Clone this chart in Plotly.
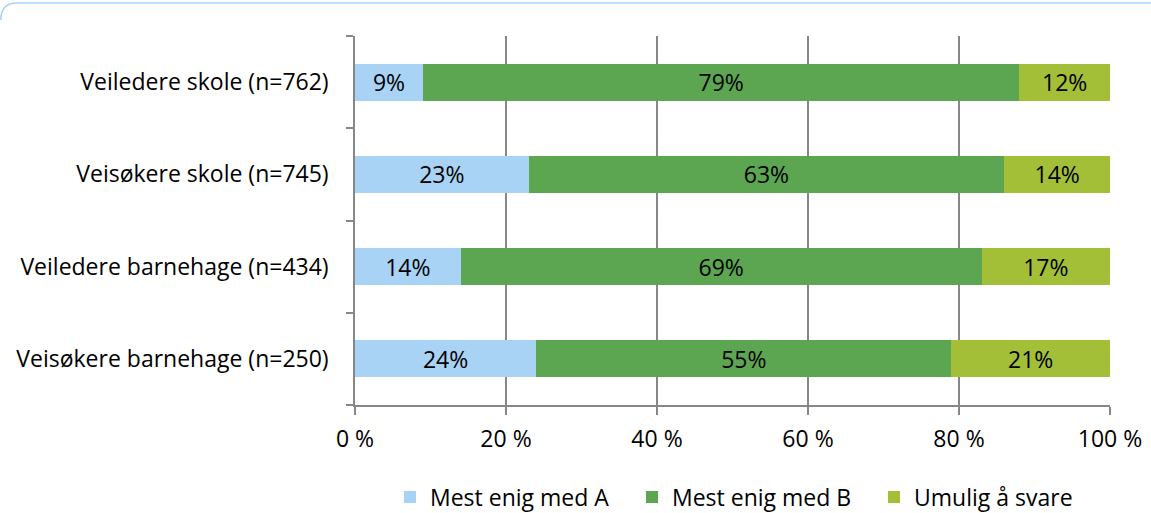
import plotly.graph_objects as go

categories = [
    "Veiledere skole (n=762)",
    "Veisøkere skole (n=745)",
    "Veiledere barnehage (n=434)",
    "Veisøkere barnehage (n=250)",
]
series_names = ["Mest enig med A", "Mest enig med B", "Umulig å svare"]
mest_enig_a = [9, 23, 14, 24]
mest_enig_b = [79, 63, 69, 55]
umulig = [12, 14, 17, 21]
x_ticks = [0, 20, 40, 60, 80, 100]
x_tick_labels = ["0 %", "20 %", "40 %", "60 %", "80 %", "100 %"]

colors = ["#a9d3f5", "#5ca651", "#a3bf37"]
FONT = "'Open Sans', 'Noto Sans', sans-serif"
FS = 23
GRAY = "#878787"

W, H = 1151, 513
ml, mr, mt, mb = 355, 41, 36, 108

fig = go.Figure()
for name, vals, col in zip(series_names, [mest_enig_a, mest_enig_b, umulig], colors):
    fig.add_trace(go.Bar(
        y=categories,
        x=vals,
        name=name,
        orientation="h",
        marker=dict(color=col, line=dict(width=0)),
        text=[f"{v}%" for v in vals],
        textposition="inside",
        insidetextanchor="middle",
        textangle=0,
        constraintext="none",
        textfont=dict(family=FONT, size=FS, color="#000000"),
        hoverinfo="skip",
    ))

# rounded top-left frame line, positioned in pixels via paper coordinates
pw, ph = W - ml - mr, H - mt - mb

def px(xp):
    return (xp - ml) / pw

def py(yp):
    return 1 - (yp - mt) / ph

frame_path = (
    f"M {px(0.8):.5f} {py(20):.5f} "
    f"Q {px(0.8):.5f} {py(3):.5f} {px(17):.5f} {py(3):.5f} "
    f"L {px(1151):.5f} {py(3):.5f}"
)

fig.update_layout(
    width=W,
    height=H,
    barmode="stack",
    bargap=0.6,
    margin=dict(l=ml, r=mr, t=mt, b=mb, pad=0, autoexpand=False),
    paper_bgcolor="white",
    plot_bgcolor="white",
    font=dict(family=FONT, size=FS, color="#000000"),
    showlegend=True,
    legend=dict(
        orientation="h",
        xref="container", yref="container",
        x=390 / W, xanchor="left",
        y=1 - 497 / H, yanchor="middle",
        font=dict(family=FONT, size=FS, color="#000000"),
        traceorder="normal",
        itemwidth=30,
        entrywidth=197,
        entrywidthmode="pixels",
    ),
    xaxis=dict(
        range=[0, 100],
        tickvals=x_ticks,
        ticktext=x_tick_labels,
        showgrid=True,
        gridcolor=GRAY,
        gridwidth=1.5,
        zeroline=False,
        showline=True,
        linecolor=GRAY,
        linewidth=1.5,
        ticks="outside",
        ticklen=8,
        tickwidth=1.5,
        tickcolor=GRAY,
        tickfont=dict(family=FONT, size=FS, color="#000000"),
        ticklabelstandoff=5,
        fixedrange=True,
    ),
    yaxis=dict(
        categoryorder="array",
        categoryarray=categories[::-1],
        tickson="boundaries",
        ticks="outside",
        ticklen=7,
        tickwidth=1.5,
        tickcolor=GRAY,
        showline=True,
        linecolor=GRAY,
        linewidth=1.5,
        showgrid=False,
        tickfont=dict(family=FONT, size=FS, color="#000000"),
        ticklabelstandoff=20,
        fixedrange=True,
    ),
    shapes=[dict(
        type="path", xref="paper", yref="paper", path=frame_path,
        line=dict(color="#a9d2f3", width=1.5), layer="above",
    )],
)

fig.write_html("out.html")
